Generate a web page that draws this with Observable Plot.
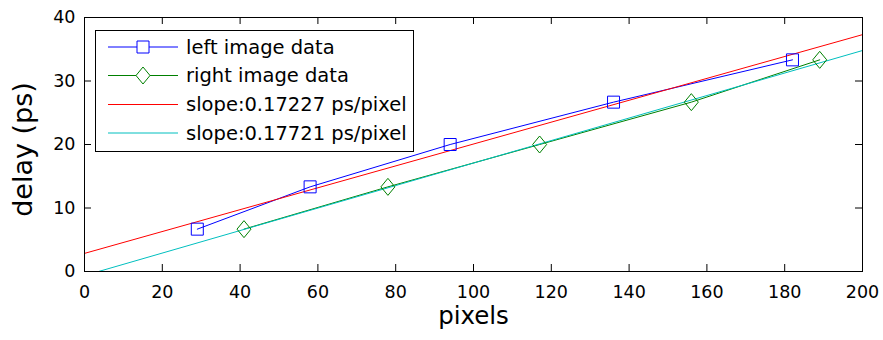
<!DOCTYPE html>
<html><head><meta charset="utf-8">
<script src="https://cdn.jsdelivr.net/npm/d3@7"></script>
<script src="https://cdn.jsdelivr.net/npm/@observablehq/plot@0.6"></script>
<style>
body{margin:0;background:#fff}
#wrap{position:relative;width:883px;height:340px}
#wrap svg{display:block}
#legend{position:absolute;left:0;top:0}
</style>
</head><body><div id="wrap"></div>
<script>
// ---- data ----
const leftX = [29, 58, 94, 136, 182];
const leftY = [6.67, 13.33, 20, 26.67, 33.33];
const rightX = [41, 78, 117, 156, 189];
const rightY = [6.67, 13.33, 20, 26.67, 33.33];
const fitX = [0, 200];
const redFitY = [2.85, 37.3];
const cyanFitY = [-0.64, 34.8];
const xTicks = [0, 20, 40, 60, 80, 100, 120, 140, 160, 180, 200];
const yTicks = [0, 10, 20, 30, 40];
const legendLabels = ["left image data", "right image data", "slope:0.17227 ps/pixel", "slope:0.17721 ps/pixel"];
const xLabel = "pixels";
const yLabel = "delay (ps)";

const BLUE = "#0000ff", GREEN = "#008000", RED = "#ff0000", CYAN = "#00bfbf";

const squareSym = {draw(ctx) { const h = 6; ctx.moveTo(-h, -h); ctx.lineTo(h, -h); ctx.lineTo(h, h); ctx.lineTo(-h, h); ctx.closePath(); }};
const diamondSym = {draw(ctx) { const w = 7, h = 8.5; ctx.moveTo(0, -h); ctx.lineTo(w, 0); ctx.lineTo(0, h); ctx.lineTo(-w, 0); ctx.closePath(); }};

const left = leftX.map((x, i) => ({x, y: leftY[i]}));
const right = rightX.map((x, i) => ({x, y: rightY[i]}));
const redFit = fitX.map((x, i) => ({x, y: redFitY[i]}));
const cyanFit = fitX.map((x, i) => ({x, y: cyanFitY[i]}));

const chart = Plot.plot({
  width: 883, height: 340,
  marginLeft: 84, marginRight: 21, marginTop: 17, marginBottom: 69,
  x: {domain: [0, 200]},
  y: {domain: [0, 40]},
  style: {fontFamily: "DejaVu Sans", fontSize: "17.5px", color: "black", background: "white"},
  marks: [
    Plot.line(left, {x: "x", y: "y", stroke: BLUE, strokeWidth: 1}),
    Plot.line(right, {x: "x", y: "y", stroke: GREEN, strokeWidth: 1}),
    Plot.line(redFit, {x: "x", y: "y", stroke: RED, strokeWidth: 1, clip: true}),
    Plot.line(cyanFit, {x: "x", y: "y", stroke: CYAN, strokeWidth: 1, clip: true}),
    Plot.dot(left, {x: "x", y: "y", symbol: squareSym, stroke: BLUE, strokeWidth: 1, fill: "none"}),
    Plot.dot(right, {x: "x", y: "y", symbol: diamondSym, stroke: GREEN, strokeWidth: 1, fill: "none"}),
    Plot.frame({stroke: "black"}),
    Plot.ruleX(xTicks, {insetTop: 247, stroke: "black"}),
    Plot.ruleX(xTicks, {insetBottom: 247, stroke: "black"}),
    Plot.ruleY(yTicks, {insetRight: 771, stroke: "black"}),
    Plot.ruleY(yTicks, {insetLeft: 771, stroke: "black"}),
    Plot.axisX(xTicks, {tickSize: 0, tickPadding: 14, fontSize: 17.5, label: null}),
    Plot.axisY(yTicks, {tickSize: 0, tickPadding: 9, fontSize: 17.5, label: null}),
    Plot.text([xLabel], {frameAnchor: "bottom", dy: 52, fontSize: 24.5, fill: "black"}),
    Plot.text([yLabel], {frameAnchor: "left", textAnchor: "middle", dx: -61, dy: 5, rotate: -90, fontSize: 27, fill: "black"})
  ]
});
const wrap = document.getElementById("wrap");
wrap.appendChild(chart);

// ---- legend overlay ----
const lg = d3.select(wrap).append("svg").attr("id", "legend")
  .attr("width", 883).attr("height", 340)
  .style("font-family", "DejaVu Sans").style("font-size", "19.5px");
lg.append("rect").attr("x", 95.5).attr("y", 30.5).attr("width", 318).attr("height", 121)
  .attr("fill", "white").attr("stroke", "black");
const rowY = [47, 75.5, 104.5, 133];
const rowColors = [BLUE, GREEN, RED, CYAN];
const rowSyms = [squareSym, diamondSym, null, null];
legendLabels.forEach((label, i) => {
  const y = rowY[i];
  lg.append("line").attr("x1", 108).attr("x2", 178).attr("y1", y).attr("y2", y).attr("stroke", rowColors[i]);
  if (rowSyms[i]) {
    const p = d3.path(); rowSyms[i].draw(p);
    lg.append("path").attr("d", p.toString()).attr("transform", `translate(143,${y})`)
      .attr("fill", "white").attr("stroke", rowColors[i]);
  }
  lg.append("text").attr("x", 186).attr("y", y).attr("dy", "0.35em").attr("fill", "black").text(label);
});
</script>
</body></html>
